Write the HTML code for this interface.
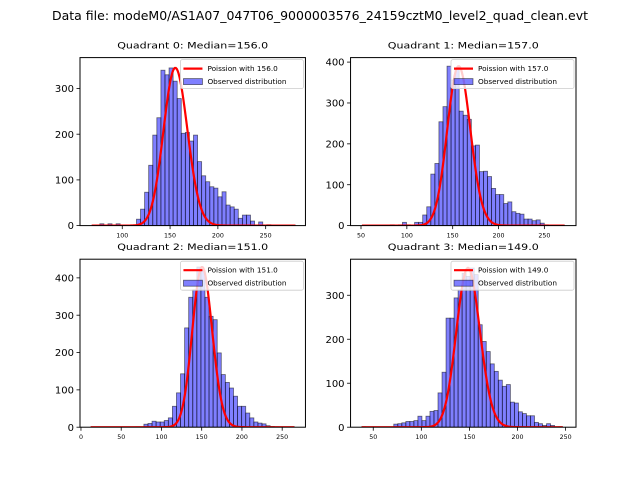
<!DOCTYPE html>
<html><head><meta charset="utf-8"><style>
body{margin:0;background:#fff;}
svg{display:block;font-family:"DejaVu Sans","Liberation Sans",sans-serif;}
</style></head><body>
<svg id="fig" width="640" height="480" viewBox="0 0 640 480" xmlns="http://www.w3.org/2000/svg">
<rect width="640" height="480" fill="#fff"/>
<text x="320" y="20" text-anchor="middle" font-size="12.3" textLength="536" lengthAdjust="spacingAndGlyphs">Data file: modeM0/AS1A07_047T06_9000003576_24159cztM0_level2_quad_clean.evt</text>
</svg>
<script>
const medians = [156.0, 157.0, 151.0, 149.0];
const binStarts = [68, 51, 12.4, 37.9];
const binWidths = [4.26, 4.42, 5.06, 4.18];
const counts0 = [0,0,4,0,4,0,4,0,0,0,0,14,36,73,132,198,236,340,330,345,316,278,202,204,185,198,140,109,96,85,82,63,74,45,41,36,16,23,23,10,1,8,0,2,1,1,0,0,0,1];
const counts1 = [0,0,0,0,0,1,1,2,1,2,8,2,1,8,8,26,46,126,152,254,291,390,356,384,280,270,260,195,197,132,133,120,91,76,76,54,58,34,30,28,16,16,12,14,6,2,1,1,0,1];
const counts2 = [0,0,0,0,0,0,0,0,0,0,0,1,0,8,10,16,14,14,18,25,56,92,143,266,348,368,429,420,348,297,288,199,141,120,105,83,56,56,38,25,14,11,9,4,2,1,0,0,0,1];
const counts3 = [1,0,0,0,0,0,0,0,7,8,10,13,13,15,25,15,25,36,38,78,125,248,248,294,312,350,343,362,347,233,195,172,144,127,107,93,97,57,55,35,31,26,26,11,8,4,8,4,0,1];
const xTicks0 = [100,150,200,250];
const xTicks1 = [50,100,150,200,250];
const xTicks2 = [0,50,100,150,200,250];
const xTicks3 = [50,100,150,200,250];
const yTicks0 = [0,100,200,300];
const yTicks1 = [0,100,200,300,400];
const yTicks2 = [0,100,200,300,400];
const yTicks3 = [0,100,200,300];
const allCounts=[counts0,counts1,counts2,counts3];
const allX=[xTicks0,xTicks1,xTicks2,xTicks3];
const allY=[yTicks0,yTicks1,yTicks2,yTicks3];
const layout=[
 {l:80,t:57.6,xmin:55.8,xmax:291.6,ymax:367.6},
 {l:350.55,t:57.6,xmin:38.6,xmax:284.5,ymax:411},
 {l:80,t:259.2,xmin:-1.2,xmax:278.9,ymax:450},
 {l:350.55,t:259.2,xmin:26.4,xmax:260.8,ymax:382}];
const W=225.45,H=168,NS="http://www.w3.org/2000/svg";
const svg=document.getElementById('fig');
function mk(tag,attrs,parent){const e=document.createElementNS(NS,tag);for(const k in attrs)e.setAttribute(k,attrs[k]);(parent||svg).appendChild(e);return e;}
function lgam(n){let s=0;for(let i=2;i<=n;i++)s+=Math.log(i);return s;}
function pmf(k,mu){return Math.exp(k*Math.log(mu)-mu-lgam(k));}
for(let p=0;p<4;p++){
 const L=layout[p],c=allCounts[p],mu=medians[p],b0=binStarts[p],bw=binWidths[p];
 const xs=v=>L.l+(v-L.xmin)/(L.xmax-L.xmin)*W;
 const ys=v=>L.t+H-v/L.ymax*H;
 const g=mk('g',{});
 
 
 const cp=mk('clipPath',{id:'cp'+p},g);mk('rect',{x:L.l,y:L.t,width:W,height:H},cp);
 const title=mk('text',{x:L.l+W/2,y:L.t-9,'text-anchor':'middle','font-size':'9',textLength:'151',lengthAdjust:'spacingAndGlyphs'},g);
 title.textContent='Quadrant '+p+': Median='+mu.toFixed(1);
 
 
 const bars=mk('g',{'clip-path':'url(#cp'+p+')'},g);
 c.forEach((v,i)=>{
  const x0=xs(b0+i*bw),x1=xs(b0+(i+1)*bw);
  if(v<=0)return;
  const r=mk('rect',{x:x0,y:ys(v),width:x1-x0,height:ys(0)-ys(v),fill:'rgba(0,0,255,0.5)',stroke:'rgba(0,0,0,0.55)','stroke-width':'0.8'},bars);
  
  
 });
 const mx=Math.max(...c),mode=Math.floor(mu),scale=mx/pmf(mode,mu);
 let d='';const kEnd=Math.round(b0+50*bw);
 for(let k=Math.round(b0);k<=kEnd;k++){d+=(d?'L':'M')+xs(k).toFixed(2)+','+ys(pmf(k,mu)*scale).toFixed(2);}
 const pl=mk('path',{d:d,fill:'none',stroke:'#f00','stroke-width':'2.2','clip-path':'url(#cp'+p+')'},g);
 
 
 const fr=mk('rect',{x:L.l,y:L.t,width:W,height:H,fill:'none',stroke:'#000','stroke-width':'1'},g);
 
 
 allX[p].forEach(t=>{const x=xs(t);mk('line',{x1:x,x2:x,y1:L.t+H,y2:L.t+H+3.5,stroke:'#000','stroke-width':'0.8'},g);
  const tx=mk('text',{x:x,y:L.t+H+12,'text-anchor':'middle','font-size':'6.3'},g);tx.textContent=t;
  
  });
 allY[p].forEach(t=>{const y=ys(t);mk('line',{x1:L.l-3.5,x2:L.l,y1:y,y2:y,stroke:'#000','stroke-width':'0.8'},g);
  const ty=mk('text',{x:L.l-6,y:y+3.6,'text-anchor':'end','font-size':'10'},g);ty.textContent=t;
  
  });
 const lx=L.l+W-125,ly=L.t+2;
 const lg=mk('g',{},g);
 
 
 mk('rect',{x:lx,y:ly,width:123,height:29,rx:2,fill:'rgba(255,255,255,0.8)',stroke:'#ccc','stroke-width':'0.8'},lg);
 mk('line',{x1:lx+3,x2:lx+22,y1:ly+9,y2:ly+9,stroke:'#f00','stroke-width':'2.2'},lg);
 const t1=mk('text',{x:lx+27,y:ly+11.5,'font-size':'7.3'},lg);t1.textContent='Poission with '+mu.toFixed(1);
 
 
 mk('rect',{x:lx+3,y:ly+19,width:19,height:6,fill:'rgba(0,0,255,0.5)',stroke:'rgba(0,0,0,0.55)','stroke-width':'0.8'},lg);
 const t2=mk('text',{x:lx+27,y:ly+24.5,'font-size':'7.3'},lg);t2.textContent='Observed distribution';
 
 
}
</script>
</body></html>
